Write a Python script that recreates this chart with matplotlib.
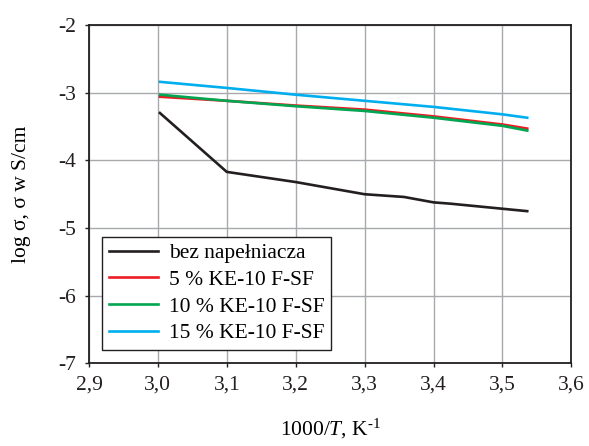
import matplotlib.pyplot as plt
from matplotlib.ticker import FuncFormatter

plt.rcParams['font.family'] = ['Liberation Serif', 'DejaVu Serif']
plt.rcParams['mathtext.fontset'] = 'custom'
plt.rcParams['mathtext.rm'] = 'Liberation Serif'
plt.rcParams['mathtext.it'] = 'Liberation Serif:italic'

# 1000/T values and log conductivity for each sample
x_base = [3.003, 3.1, 3.2, 3.3, 3.357, 3.4, 3.425, 3.536]
y_base = [-3.30, -4.17, -4.32, -4.50, -4.54, -4.62, -4.64, -4.75]

x_fill = [3.003, 3.1, 3.2, 3.3, 3.4, 3.5, 3.536]
y_5 = [-3.06, -3.12, -3.19, -3.25, -3.35, -3.47, -3.53]
y_10 = [-3.03, -3.12, -3.20, -3.27, -3.37, -3.49, -3.56]
y_15 = [-2.84, -2.93, -3.03, -3.12, -3.21, -3.32, -3.37]

labels = ['bez napełniacza', '5 % KE-10 F-SF', '10 % KE-10 F-SF', '15 % KE-10 F-SF']
colors = ['#231f20', '#ed1c24', '#00a651', '#00aeef']

fig = plt.figure(figsize=(5.89, 4.46), dpi=100)
ax = fig.add_axes([0.151, 0.185, 0.819, 0.759])

ax.plot(x_base, y_base, color=colors[0], lw=1.9, label=labels[0])
ax.plot(x_fill, y_5, color=colors[1], lw=1.9, label=labels[1])
ax.plot(x_fill, y_10, color=colors[2], lw=1.9, label=labels[2])
ax.plot(x_fill, y_15, color=colors[3], lw=1.9, label=labels[3])

ax.set_xlim(2.9, 3.6)
ax.set_ylim(-7, -2)
ax.set_xticks([2.9, 3.0, 3.1, 3.2, 3.3, 3.4, 3.5, 3.6])
ax.set_yticks([-7, -6, -5, -4, -3, -2])
ax.xaxis.set_major_formatter(FuncFormatter(lambda v, p: f'{v:.1f}'.replace('.', ',')))
ax.yaxis.set_major_formatter(FuncFormatter(lambda v, p: f'{v:.0f}'))
ax.grid(True, color='#a7a9ac', lw=1.0)
ax.set_axisbelow(True)
ax.tick_params(direction='out', length=3, width=1, labelsize=15.5, pad=6, colors='#231f20')
for s in ax.spines.values():
    s.set_color('#231f20')
    s.set_linewidth(1.3)

ax.set_xlabel('1000/$\\it{T}$, K$^{\\text{-1}}$', fontsize=15.5, labelpad=16)
ax.set_ylabel('log σ, σ w S/cm', fontsize=15.5, labelpad=20)

leg = ax.legend(loc='lower left', bbox_to_anchor=(0.028, 0.04), fontsize=15.5,
                handlelength=2.3, labelspacing=0.31, borderpad=0.3,
                handletextpad=0.5, fancybox=False, framealpha=1,
                edgecolor='#231f20', borderaxespad=0)
leg.get_frame().set_linewidth(1.0)

fig.savefig('out.png', dpi=100)
